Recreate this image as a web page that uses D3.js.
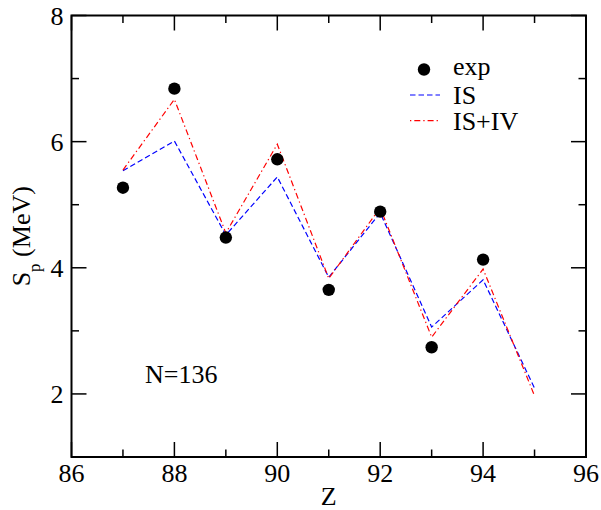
<!DOCTYPE html>
<html>
<head>
<meta charset="utf-8">
<script src="https://cdn.jsdelivr.net/npm/d3@7/dist/d3.min.js"></script>
</head>
<body style="margin:0">
<svg id="chart" width="601" height="510"></svg>
<script>
// Proton separation energies for the N=136 isotones
const zTheory = [87, 88, 89, 90, 91, 92, 93, 94, 95];
const spIS    = [5.54, 6.01, 4.52, 5.44, 3.85, 4.87, 3.06, 3.81, 2.09];
const spISIV  = [5.55, 6.67, 4.55, 5.96, 3.83, 4.95, 2.90, 3.98, 1.97];
const zExp    = [87, 88, 89, 90, 91, 92, 93, 94];
const spExp   = [5.27, 6.84, 4.48, 5.72, 3.65, 4.89, 2.74, 4.13];

const xMajor = [86, 88, 90, 92, 94, 96];
const xMinor = [87, 89, 91, 93, 95];
const yMajor = [2, 4, 6, 8];
const yMinor = [3, 5, 7];

const serifFace = "'Times New Roman', 'Liberation Serif', Tinos, FreeSerif, serif";

const svg = d3.select("#chart");
const pl = 71.5, pr = 586, pt = 15.5, pb = 457;

const x = d3.scaleLinear().domain([86, 96]).range([pl, pr]);
const y = d3.scaleLinear().domain([1, 8]).range([pb, pt]);

const fs = 26, majLen = 15, minLen = 7.5;

// Inward ticks on all four sides
const ticks = svg.append("g").attr("stroke", "#000").attr("stroke-width", 1.5);
function xTicks(vals, len) {
  vals.forEach(v => {
    ticks.append("line").attr("x1", x(v)).attr("x2", x(v)).attr("y1", pb).attr("y2", pb - len);
    ticks.append("line").attr("x1", x(v)).attr("x2", x(v)).attr("y1", pt).attr("y2", pt + len);
  });
}
function yTicks(vals, len) {
  vals.forEach(v => {
    ticks.append("line").attr("y1", y(v)).attr("y2", y(v)).attr("x1", pl).attr("x2", pl + len);
    ticks.append("line").attr("y1", y(v)).attr("y2", y(v)).attr("x1", pr).attr("x2", pr - len);
  });
}
xTicks(xMajor, majLen); xTicks(xMinor, minLen);
yTicks(yMajor, majLen); yTicks(yMinor, minLen);

// Theory curves
const line = d3.line().x(d => x(d[0])).y(d => y(d[1]));
svg.append("path").datum(d3.zip(zTheory, spIS)).attr("d", line)
  .attr("fill", "none").attr("stroke", "#0000ff").attr("stroke-width", 1.2)
  .attr("stroke-dasharray", "5.5,3");
svg.append("path").datum(d3.zip(zTheory, spISIV)).attr("d", line)
  .attr("fill", "none").attr("stroke", "#ff0000").attr("stroke-width", 1.2)
  .attr("stroke-dasharray", "6,3,1.3,3");

// Experimental points
svg.append("g").selectAll("circle").data(d3.zip(zExp, spExp)).join("circle")
  .attr("cx", d => x(d[0])).attr("cy", d => y(d[1])).attr("r", 6.2).attr("fill", "#000");

// Frame
svg.append("rect").attr("x", pl).attr("y", pt)
  .attr("width", pr - pl).attr("height", pb - pt)
  .attr("fill", "none").attr("stroke", "#000").attr("stroke-width", 2);

// Legend marks
svg.append("circle").attr("cx", 424).attr("cy", 69.5).attr("r", 6.2).attr("fill", "#000");
svg.append("line").attr("x1", 410).attr("x2", 440).attr("y1", 95).attr("y2", 95)
  .attr("stroke", "#0000ff").attr("stroke-width", 1.2).attr("stroke-dasharray", "5.5,3");
svg.append("line").attr("x1", 410).attr("x2", 440).attr("y1", 120.7).attr("y2", 120.7)
  .attr("stroke", "#ff0000").attr("stroke-width", 1.2).attr("stroke-dasharray", "1.3,3,6,3");

// All text labels, drawn in a serif face
const texts = [
  ...xMajor.map(v => ({ t: String(v), x: x(v), y: pb + 25, a: "middle" })),
  ...yMajor.map(v => ({ t: String(v), x: pl - 8, y: y(v) + 9, a: "end" })),
  { t: "exp", x: 453, y: 75, a: "start" },
  { t: "IS", x: 453, y: 104, a: "start" },
  { t: "IS+IV", x: 453, y: 130, a: "start" },
  { t: "N=136", x: 145, y: 383, a: "start" },
  { t: "Z", x: (pl + pr) / 2, y: 505, a: "middle" }
];
svg.selectAll("text.lbl").data(texts).join("text")
  .attr("class", "lbl")
  .attr("x", d => d.x).attr("y", d => d.y)
  .attr("text-anchor", d => d.a)
  .attr("font-size", fs)
  .attr("font-family", serifFace)
  .style("font-family", serifFace)
  .text(d => d.t);

// Y axis title with subscript
const yt = svg.append("text")
  .attr("transform", `translate(30,${(pt + pb) / 2}) rotate(-90)`)
  .attr("text-anchor", "middle")
  .attr("font-size", fs)
  .attr("font-family", serifFace)
  .style("font-family", serifFace);
yt.append("tspan").text("S");
yt.append("tspan").attr("font-size", 17).attr("dy", 10).text("p");
yt.append("tspan").attr("dy", -10).text(" (MeV)");
</script>
</body>
</html>
